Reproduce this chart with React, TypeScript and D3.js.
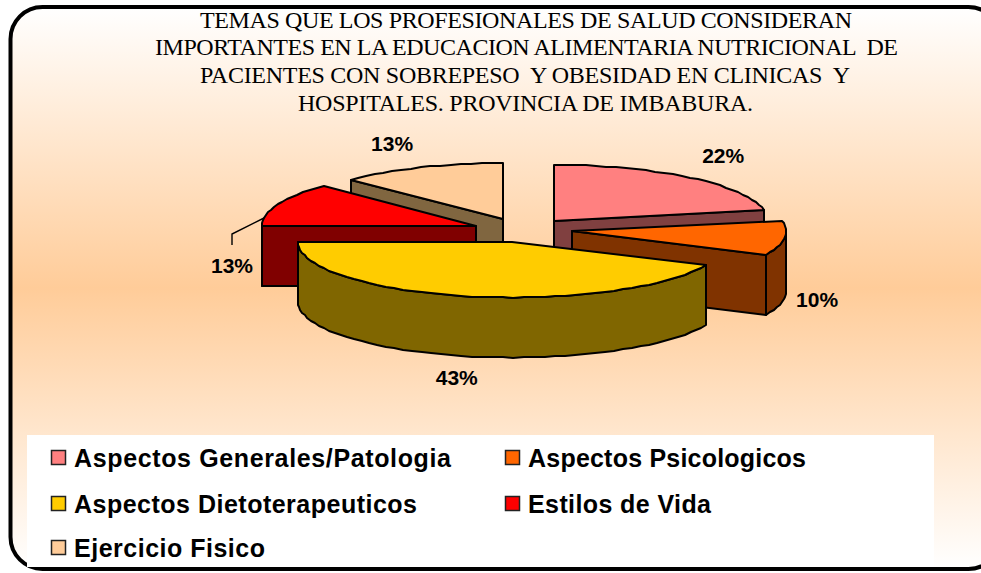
import React from "react";
import * as d3 from "d3";

const categories = ["Aspectos Generales/Patologia", "Aspectos Psicologicos", "Aspectos Dietoterapeuticos", "Estilos de Vida", "Ejercicio Fisico"];
const values = [21.9, 10, 43, 12.5, 12.6];
const topColors = ["#FF8080", "#FF6600", "#FFCC00", "#FF0000", "#FFCC99"];
const sideColors = ["#804040", "#803300", "#806600", "#800000", "#806640"];
const titleLines = [
  "TEMAS QUE LOS PROFESIONALES DE SALUD CONSIDERAN",
  "IMPORTANTES EN LA EDUCACION ALIMENTARIA NUTRICIONAL  DE",
  "PACIENTES CON SOBREPESO  Y OBESIDAD EN CLINICAS  Y",
  "HOSPITALES. PROVINCIA DE IMBABURA.",
];

const W = 981, H = 573;
const cx = 522.4, cy = 230, rx = 214, ry = 56, depth = 60, explode = 0.234, explodeY = 0.9;
const TAU = Math.PI * 2;
const titleLayout = [[200, 652, 28], [155, 743, 55], [200, 650, 83], [298, 455, 111]];
const legendTextWidths = [377, 278, 343, 183, 191];
const legendPos = [[51, 458], [505, 458], [51, 504], [505, 504], [51, 548]];
const labelNudge = [[169, -65], [245, 69], [-55, 136], [-244, 40], [-111, -75]];

const pt = (c: number[], a: number, dy = 0): [number, number] => [
  Math.round(c[0] + rx * Math.sin(a)),
  Math.round(c[1] - ry * Math.cos(a) + dy),
];
const arcPts = (c: number[], a0: number, a1: number, dy = 0) => {
  const n = Math.max(1, Math.ceil(Math.abs(a1 - a0) / 0.05));
  return d3.range(n + 1).map((i) => pt(c, a0 + ((a1 - a0) * i) / n, dy));
};
const line = d3.line();

export default function App() {
  const pie = d3.pie<number>().sort(null).startAngle(0).endAngle(TAU)(values);
  const slices = pie.map((p, i) => {
    const mid = (p.startAngle + p.endAngle) / 2;
    const c = [cx + explode * rx * Math.sin(mid), cy - explode * explodeY * ry * Math.cos(mid)];
    return { i, a0: p.startAngle, a1: p.endAngle, mid, c };
  });
  const order = [...slices].sort((a, b) => a.c[1] - b.c[1]);
  const radial = (c: number[], a: number) => {
    const p = pt(c, a);
    const q: [number, number] = [Math.round(c[0]), Math.round(c[1])];
    return line([q, p, [p[0], p[1] + depth], [q[0], q[1] + depth]]) + "Z";
  };
  const stroke = { stroke: "#000", strokeWidth: 2, strokeLinejoin: "round" as const };
  const pctText = (v: number) => `${Math.round(v)}%`;
  const red = slices[3];
  const leaderStart = pt(red.c, red.mid - 0.25);

  return (
    <svg width={W} height={H} style={{ position: "absolute", left: 0, top: 0, background: "#fff" }}>
      <defs>
        <linearGradient id="bg" x1="0" y1="0" x2="0" y2="1">
          <stop offset="0" stopColor="#FFFFFF" />
          <stop offset="0.5" stopColor="#FFCC99" />
          <stop offset="1" stopColor="#FFFFFF" />
        </linearGradient>
      </defs>
      <rect x={10.5} y={7} width={990} height={562} rx={32} ry={32} fill="url(#bg)" stroke="#000" strokeWidth={4} />
      <rect x={27} y={435} width={907} height={132} fill="#fff" />

      {titleLines.map((t, i) => (
        <text key={i} x={titleLayout[i][0]} y={titleLayout[i][2]} textLength={titleLayout[i][1]} lengthAdjust="spacing"
          fontFamily="'Liberation Serif', serif" fontSize={24} fill="#000" style={{ whiteSpace: "pre" }}>{t}</text>
      ))}

      {order.map(({ i, a0, a1, c }) => {
        const faces: React.ReactNode[] = [];
        const aEnd = a1 % TAU;
        if (Math.sin(a0) < -1e-6) faces.push(<path key="s" d={radial(c, a0)} fill={sideColors[i]} {...stroke} />);
        if (Math.sin(aEnd) > 1e-6) faces.push(<path key="e" d={radial(c, aEnd)} fill={sideColors[i]} {...stroke} />);
        const w0 = Math.max(a0, Math.PI / 2), w1 = Math.min(a1, (3 * Math.PI) / 2);
        if (w1 > w0) {
          const top = arcPts(c, w0, w1);
          const bottom = arcPts(c, w1, w0, depth);
          faces.push(<path key="w" d={line([...top, ...bottom]) + "Z"} fill={sideColors[i]} {...stroke} />);
        }
        const q: [number, number] = [Math.round(c[0]), Math.round(c[1])];
        faces.push(<path key="t" d={line([q, ...arcPts(c, a0, a1)]) + "Z"} fill={topColors[i]} {...stroke} />);
        return <g key={i}>{faces}</g>;
      })}

      <path d={line([leaderStart, [232, 234], [232, 245]]) || ""} fill="none" stroke="#000" strokeWidth={1.4} />

      {slices.map(({ i, c }) => (
        <text key={i} x={c[0] + labelNudge[i][0]} y={c[1] + labelNudge[i][1] + 7} textAnchor="middle"
          fontFamily="'Liberation Sans', Arial, sans-serif" fontWeight="bold" fontSize={21} fill="#000">{pctText(values[i])}</text>
      ))}

      {categories.map((name, i) => (
        <g key={name}>
          <rect x={legendPos[i][0] + 0.5} y={legendPos[i][1] - 7.5} width={14} height={14} fill={topColors[i]} stroke="#222" strokeWidth={1.5} />
          <text x={legendPos[i][0] + 23} y={legendPos[i][1] + 9} textLength={legendTextWidths[i]} lengthAdjust="spacing"
            fontFamily="'Liberation Sans', Arial, sans-serif" fontWeight="bold" fontSize={25} fill="#000">{name}</text>
        </g>
      ))}
    </svg>
  );
}
